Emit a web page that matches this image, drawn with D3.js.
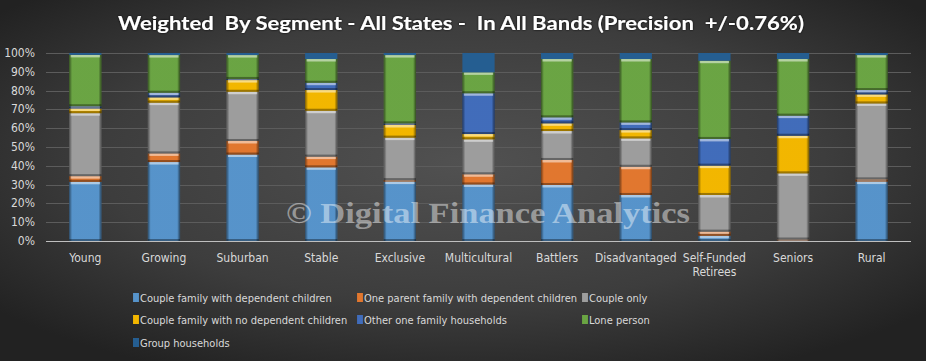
<!DOCTYPE html>
<html lang="en">

<head>
    <meta charset="UTF-8">
    <title>Weighted By Segment</title>
    <style>
        body {
            margin: 0;
            padding: 0;
            background: #2a2a2a;
        }

        svg {
            display: block;
        }

        .lbl {
            font-family: "Liberation Sans Narrow", "DejaVu Sans Condensed", sans-serif;
            fill: #d9d9d9;
        }
    </style>
</head>

<body>

    <script src="https://cdn.jsdelivr.net/npm/d3@7"></script>
    <script>
        const width = 926
        const height = 361

        // segments along the x axis
        const segments = ['Young', 'Growing', 'Suburban', 'Stable', 'Exclusive', 'Multicultural',
            'Battlers', 'Disadvantaged', 'Self-Funded Retirees', 'Seniors', 'Rural']

        const seriesNames = ['Couple family with dependent children', 'One parent family with dependent children',
            'Couple only', 'Couple family with no dependent children', 'Other one family households',
            'Lone person', 'Group households']

        // percent per segment, same order as segments
        const coupleWithKids = [31.5, 42.0, 46.0, 39.2, 31.6, 30.1, 29.8, 24.5, 2.8, 0.3, 31.6]
        const oneParent = [3.0, 4.6, 7.2, 5.7, 0.8, 5.4, 13.3, 15.0, 2.2, 0.5, 1.2]
        const coupleOnly = [33.5, 27.0, 26.2, 24.4, 22.6, 18.6, 15.4, 15.1, 19.5, 35.2, 40.4]
        const coupleNoKids = [2.5, 2.8, 6.2, 11.0, 6.7, 2.8, 4.1, 4.4, 15.6, 20.0, 4.8]
        const otherFamily = [1.2, 2.5, 0.6, 3.9, 0.9, 21.7, 3.2, 4.1, 14.2, 10.7, 2.3]
        const lonePerson = [27.3, 20.0, 12.7, 12.6, 36.3, 11.1, 31.0, 33.7, 41.6, 30.1, 18.6]
        const groupHouse = [1.0, 1.1, 1.1, 3.2, 1.1, 10.3, 3.2, 3.2, 4.1, 3.2, 1.1]

        const yTicks = [0, 10, 20, 30, 40, 50, 60, 70, 80, 90, 100]

        const colors = ['#5b9bd5', '#ed7d31', '#a5a5a5', '#ffc000', '#4472c4', '#70ad47', '#255e91']

        const seriesValues = [coupleWithKids, oneParent, coupleOnly, coupleNoKids, otherFamily, lonePerson, groupHouse]

        const rows = segments.map((s, i) => {
            const r = { segment: s }
            seriesNames.forEach((n, k) => r[n] = seriesValues[k][i])
            return r
        })
        const stacked = d3.stack().keys(seriesNames)(rows)

        const margin = { top: 53, right: 15, bottom: 120, left: 46 }

        const x = d3.scaleBand()
            .domain(segments)
            .range([margin.left, 911])
            .paddingInner(0.59)
            .paddingOuter(0.295)

        const y = d3.scaleLinear()
            .domain([0, 100])
            .range([241, 53])

        const svg = d3.select('body')
            .append('svg')
            .attr('width', width)
            .attr('height', height)

        const defs = svg.append('defs')

        const bg = defs.append('radialGradient')
            .attr('id', 'bg')
            .attr('cx', '50%').attr('cy', '45%').attr('r', '65%')
        bg.append('stop').attr('offset', '0%').attr('stop-color', '#515151')
        bg.append('stop').attr('offset', '60%').attr('stop-color', '#3d3d3d')
        bg.append('stop').attr('offset', '100%').attr('stop-color', '#222')

        const side = defs.append('linearGradient').attr('id', 'side')
        side.append('stop').attr('offset', '0%').attr('stop-color', '#000').attr('stop-opacity', 0.5)
        side.append('stop').attr('offset', '9%').attr('stop-color', '#000').attr('stop-opacity', 0.05)
        side.append('stop').attr('offset', '91%').attr('stop-color', '#000').attr('stop-opacity', 0.05)
        side.append('stop').attr('offset', '100%').attr('stop-color', '#000').attr('stop-opacity', 0.55)

        const glow = defs.append('filter').attr('id', 'glow')
            .attr('x', '-5%').attr('y', '-30%').attr('width', '110%').attr('height', '160%')
        glow.append('feDropShadow')
            .attr('dx', 0).attr('dy', 0).attr('stdDeviation', 1.3)
            .attr('flood-color', '#000').attr('flood-opacity', 0.9)

        svg.append('rect')
            .attr('width', width)
            .attr('height', height)
            .attr('fill', 'url(#bg)')

        // title
        svg.append('text')
            .attr('x', 118)
            .attr('y', 30)
            .attr('textLength', 686)
            .attr('lengthAdjust', 'spacingAndGlyphs')
            .attr('filter', 'url(#glow)')
            .style('white-space', 'pre')
            .style('font-family', 'Lato, "Open Sans", sans-serif')
            .style('font-weight', 'bold')
            .style('font-size', '19px')
            .style('fill', '#fff')
            .text('Weighted  By Segment - All States -  In All Bands (Precision  +/-0.76%)')

        // gridlines
        svg.append('g')
            .selectAll('line')
            .data(yTicks.slice(1))
            .join('line')
            .attr('x1', margin.left)
            .attr('x2', 911)
            .attr('y1', d => Math.round(y(d)) + 0.5)
            .attr('y2', d => Math.round(y(d)) + 0.5)
            .attr('stroke', '#5c5c5c')

        // y axis labels
        svg.append('g')
            .selectAll('text')
            .data(yTicks)
            .join('text')
            .attr('class', 'lbl')
            .attr('x', 35)
            .attr('y', d => y(d) + 4)
            .attr('text-anchor', 'end')
            .style('font-size', '12px')
            .text(d => d + '%')

        // bars
        const layer = svg.append('g')
            .selectAll('g')
            .data(stacked)
            .join('g')

        const seg = layer.selectAll('g')
            .data((d, k) => d.map(p => ({ p, k, segment: p.data.segment })))
            .join('g')

        seg.append('rect')
            .attr('x', d => x(d.segment))
            .attr('y', d => y(d.p[1]))
            .attr('width', x.bandwidth())
            .attr('height', d => Math.max(0, y(d.p[0]) - y(d.p[1])))
            .attr('fill', d => colors[d.k])

        const bevel = seg.filter(d => d.k < 6 && y(d.p[0]) - y(d.p[1]) > 0.5)

        bevel.append('rect')
            .attr('x', d => x(d.segment))
            .attr('y', d => y(d.p[1]))
            .attr('width', x.bandwidth())
            .attr('height', d => y(d.p[0]) - y(d.p[1]))
            .attr('fill', 'url(#side)')

        bevel.append('rect')
            .attr('x', d => x(d.segment) + 1.5)
            .attr('y', d => y(d.p[1]))
            .attr('width', x.bandwidth() - 3)
            .attr('height', d => Math.min(2.5, y(d.p[0]) - y(d.p[1])))
            .attr('fill', '#fff')
            .attr('opacity', 0.5)

        bevel.append('rect')
            .attr('x', d => x(d.segment))
            .attr('y', d => y(d.p[0]) - Math.min(2, y(d.p[0]) - y(d.p[1])))
            .attr('width', x.bandwidth())
            .attr('height', d => Math.min(2, y(d.p[0]) - y(d.p[1])))
            .attr('fill', '#000')
            .attr('opacity', 0.35)

        // x axis line
        svg.append('line')
            .attr('x1', margin.left)
            .attr('x2', 911)
            .attr('y1', 241.5)
            .attr('y2', 241.5)
            .attr('stroke', '#bfbfbf')

        // x labels, wrapped for the long one
        const xl = svg.append('g')
            .selectAll('text')
            .data(segments)
            .join('text')
            .attr('class', 'lbl')
            .attr('x', d => x(d) + x.bandwidth() / 2)
            .attr('y', 262)
            .attr('text-anchor', 'middle')
            .style('font-size', '12px')
        xl.each(function (d) {
            const parts = d === 'Self-Funded Retirees' ? ['Self-Funded', 'Retirees'] : [d]
            d3.select(this).selectAll('tspan')
                .data(parts)
                .join('tspan')
                .attr('x', x(d) + x.bandwidth() / 2)
                .attr('dy', (p, i) => i ? 14 : 0)
                .text(p => p)
        })

        // legend
        const legendPos = [[133, 298], [357, 298], [582, 298], [133, 320], [357, 320], [582, 320], [133, 343]]
        const lg = svg.append('g')
            .selectAll('g')
            .data(seriesNames)
            .join('g')
            .attr('transform', (d, i) => `translate(${legendPos[i][0]},${legendPos[i][1]})`)

        lg.append('rect')
            .attr('x', 0)
            .attr('y', -5)
            .attr('width', 6)
            .attr('height', 9)
            .attr('fill', (d, i) => colors[i])
        lg.filter((d, i) => i < 6).append('rect')
            .attr('x', 0)
            .attr('y', -5)
            .attr('width', 6)
            .attr('height', 9)
            .attr('fill', 'url(#side)')
        lg.append('text')
            .attr('class', 'lbl')
            .attr('x', 7)
            .attr('y', 4)
            .style('font-size', '11px')
            .text(d => d)

        // watermark
        svg.append('text')
            .attr('x', 286)
            .attr('y', 223)
            .attr('textLength', 404)
            .attr('lengthAdjust', 'spacingAndGlyphs')
            .style('font-family', '"Liberation Serif", "DejaVu Serif", serif')
            .style('font-weight', 'bold')
            .style('font-size', '30px')
            .style('fill', '#fff')
            .style('fill-opacity', 0.45)
            .text('\u00a9 Digital Finance Analytics')
    </script>

</body>

</html>
